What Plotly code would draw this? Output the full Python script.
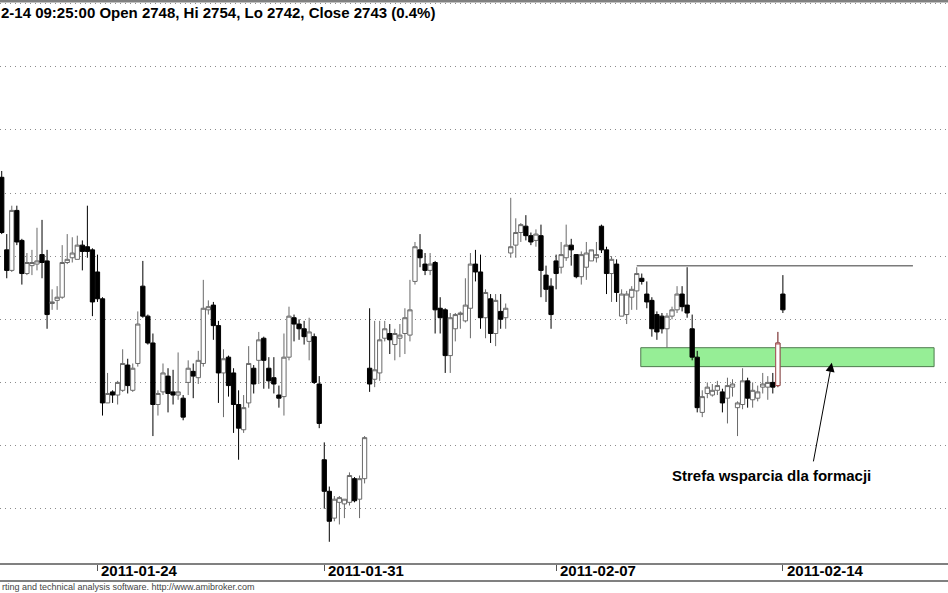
import plotly.graph_objects as go

# ---- data ----
opens = [2785, 2762, 2755.5, 2774.5, 2765, 2754.5, 2757, 2757.5, 2760.5, 2758.5,
         2745, 2746, 2747, 2758, 2759.5, 2759, 2763.5, 2763, 2762, 2755,
         2746.5, 2713.5, 2717, 2716, 2717.5, 2725.5, 2717.5, 2726, 2750.5, 2741,
         2732.5, 2713, 2717, 2722, 2717, 2716, 2715, 2720, 2723.5, 2721.5,
         2726, 2743, 2744.5, 2738, 2723, 2728, 2723, 2713, 2705, 2713.5,
         2724.5, 2727, 2734, 2724.5, 2721.5, 2716, 2715.5, 2728, 2740.5, 2738.5,
         2737, 2733, 2734.5, 2719.5, 2695.5, 2685.5, 2677, 2682, 2681.5, 2682,
         2689.5, 2683, 2689.5, 2724.5, 2721, 2723, 2734, 2735.5, 2732, 2734,
         2735.5, 2735, 2752, 2762, 2757.5, 2755.5, 2758, 2743.5, 2743, 2728.5,
         2737, 2741.5, 2739.5, 2743.5, 2757.5, 2755, 2740.5, 2746.5, 2735.5, 2742.5,
         2740.5, 2761, 2763.5, 2767.5, 2769.5, 2766.5, 2765, 2766.5, 2754, 2750.5,
         2758.5, 2756.5, 2759.5, 2763.5, 2760.5, 2753.5, 2756.5, 2758.5, 2759.5, 2769.5,
         2762, 2754.5, 2757.5, 2741, 2741.5, 2747, 2749, 2753, 2748, 2746,
         2741.5, 2741, 2737, 2741, 2743, 2748, 2744.5, 2737, 2728, 2710.5,
         2716.5, 2716, 2717.5, 2717, 2715, 2718.5, 2712, 2713, 2720.5, 2714.5,
         2715, 2718.5, 2718.5, 2720, 2719, 2748]
highs = [2787, 2767, 2776, 2776, 2765.5, 2761, 2762, 2769, 2771.5, 2762,
         2749.5, 2750.5, 2763.5, 2767, 2766, 2766.5, 2765, 2776, 2762.5, 2760.5,
         2747, 2723, 2717.5, 2720.5, 2730.5, 2727.5, 2726, 2742.5, 2758.5, 2741.5,
         2735.5, 2717.5, 2726, 2724.5, 2724, 2729.5, 2716, 2727, 2726, 2730,
         2752.5, 2746, 2745.5, 2739.5, 2730.5, 2728.5, 2724.5, 2717.5, 2716, 2731.5,
         2725.5, 2736, 2734.5, 2728, 2728, 2719, 2735.5, 2744, 2741.5, 2740,
         2739.5, 2740.5, 2735.5, 2722, 2701, 2687, 2684, 2684, 2683, 2691.5,
         2690, 2690.5, 2703, 2743.5, 2739.5, 2739.5, 2739.5, 2738.5, 2737, 2738.5,
         2743.5, 2752.5, 2764.5, 2767, 2761, 2761, 2758.5, 2747, 2743.5, 2742,
         2742, 2742.5, 2753, 2761, 2762, 2760.5, 2749.5, 2748, 2748, 2748,
         2745, 2778.5, 2772, 2770.5, 2773, 2767.5, 2768.5, 2770, 2757, 2753,
         2760.5, 2764.5, 2770, 2765.5, 2760.5, 2761.5, 2764.5, 2762, 2764.5, 2770,
         2763, 2760, 2759, 2749.5, 2749, 2750.5, 2756.5, 2754.5, 2752, 2747,
         2742.5, 2742, 2742, 2744, 2750.5, 2750.5, 2756.5, 2741.5, 2730, 2717.5,
         2720, 2719.5, 2720.5, 2718, 2721.5, 2721, 2714, 2724.5, 2721.5, 2720,
         2719, 2723, 2722, 2723, 2736, 2754]
lows = [2767, 2753, 2755, 2763.5, 2751, 2754, 2754, 2755.5, 2753, 2737,
        2743, 2743, 2746.5, 2757.5, 2758, 2759, 2755.5, 2759.5, 2741, 2745.5,
        2709.5, 2713.5, 2713.5, 2713, 2717, 2716.5, 2717, 2725, 2740.5, 2732,
        2703, 2709.5, 2716, 2710.5, 2713, 2714.5, 2708, 2716, 2715, 2719.5,
        2725, 2741.5, 2733.5, 2713.5, 2709, 2715.5, 2704, 2695.5, 2704, 2712,
        2716.5, 2719.5, 2718, 2718, 2716.5, 2712, 2709.5, 2727, 2733, 2733.5,
        2732, 2727, 2719.5, 2705.5, 2680, 2669.5, 2676, 2675, 2677, 2681,
        2682, 2677, 2688, 2717, 2718.5, 2720.5, 2733, 2729, 2727, 2728,
        2729, 2733, 2751, 2756.5, 2754, 2754, 2735.5, 2735.5, 2723, 2723,
        2733, 2737, 2739, 2734, 2752, 2737, 2734, 2732.5, 2731.5, 2737,
        2737, 2759.5, 2759.5, 2764.5, 2765, 2763.5, 2763, 2747, 2745.5, 2737,
        2749.5, 2754.5, 2758.5, 2757, 2753, 2751, 2752.5, 2758.5, 2758, 2761,
        2748, 2745.5, 2745.5, 2741, 2738.5, 2743, 2743, 2751, 2743.5, 2734.5,
        2733.5, 2735.5, 2731, 2740, 2742, 2742.5, 2740.5, 2727, 2710.5, 2709,
        2715, 2715.5, 2716, 2710.5, 2707, 2715.5, 2703, 2711.5, 2712, 2712,
        2714, 2716.5, 2714.5, 2716.5, 2718.5, 2742]
closes = [2767.5, 2755.5, 2774.5, 2764.5, 2754.5, 2758, 2758, 2758.5, 2758, 2741.5,
          2745.5, 2747, 2758, 2759, 2761, 2763.5, 2761.5, 2761.5, 2745.5, 2746.5,
          2713.5, 2716.5, 2716, 2720, 2726, 2719, 2724.5, 2738.5, 2741, 2732.5,
          2713, 2716.5, 2723, 2716.5, 2716, 2717, 2709, 2724.5, 2722, 2727,
          2743.5, 2744, 2738, 2723, 2727.5, 2719, 2713, 2705.5, 2712, 2726,
          2719.5, 2733.5, 2727, 2720.5, 2719.5, 2715, 2728, 2741, 2738.5, 2737,
          2734.5, 2736, 2720, 2707, 2685.5, 2676, 2683, 2683.5, 2683, 2690.5,
          2682.5, 2689.5, 2702.5, 2719.5, 2724, 2733.5, 2737, 2733.5, 2735.5, 2735,
          2740.5, 2743, 2763, 2759.5, 2755.5, 2757.5, 2743, 2740.5, 2728.5, 2740.5,
          2741.5, 2742, 2744.5, 2757.5, 2755, 2740.5, 2748.5, 2735.5, 2746, 2740,
          2743.5, 2763, 2767.5, 2770, 2766.5, 2764.5, 2767, 2755.5, 2749.5, 2741.5,
          2754.5, 2760.5, 2763.5, 2762, 2753.5, 2760.5, 2761, 2762, 2760.5, 2762,
          2754.5, 2759, 2748.5, 2748, 2748, 2749.5, 2754.5, 2752, 2745.5, 2737,
          2736, 2737, 2741, 2743, 2748, 2744, 2742, 2728, 2712, 2715.5,
          2718.5, 2717.5, 2719, 2713.5, 2719, 2719.5, 2713.5, 2720.5, 2715, 2717.5,
          2717, 2719.5, 2720, 2718.5, 2732.5, 2743]
bars = list(range(len(closes)))

tick_bars = [19, 64, 110, 155]
tick_labels = ["2011-01-24", "2011-01-31", "2011-02-07", "2011-02-14"]
marked_bar = 154           # bar drawn with a red outline

resistance_level = 2757.0
support_zone = (2725.0, 2731.0)

title_text = "2-14 09:25:00 Open 2748, Hi 2754, Lo 2742, Close 2743 (0.4%)"
zone_label = "Strefa wsparcia dla formacji"
footer_text = "rting and technical analysis software. http://www.amibroker.com"

FONT = "Liberation Sans, Arial, sans-serif"

fig = go.Figure()
fig.add_trace(go.Candlestick(
    x=bars, open=opens, high=highs, low=lows, close=closes,
    increasing=dict(line=dict(color="#6a6a6a", width=1), fillcolor="#ffffff"),
    decreasing=dict(line=dict(color="#000000", width=1), fillcolor="#000000"),
    whiskerwidth=0, showlegend=False, hoverinfo="skip"))
m = marked_bar
fig.add_trace(go.Candlestick(
    x=bars[m:m + 1], open=opens[m:m + 1], high=highs[m:m + 1],
    low=lows[m:m + 1], close=closes[m:m + 1],
    increasing=dict(line=dict(color="#a65050", width=1), fillcolor="#ffffff"),
    decreasing=dict(line=dict(color="#a65050", width=1), fillcolor="#ffffff"),
    whiskerwidth=0, showlegend=False, hoverinfo="skip"))

# support zone and resistance line
fig.add_shape(type="rect", xref="x", yref="y", x0=126.8, x1=185.0,
              y0=support_zone[0], y1=support_zone[1],
              fillcolor="#96ee96", line=dict(color="#4e7a4e", width=1), layer="below")
fig.add_shape(type="line", xref="x", yref="y", x0=126.0, x1=180.8,
              y0=resistance_level, y1=resistance_level,
              line=dict(color="#7a7a7a", width=1.5))

# frame lines
fig.add_shape(type="line", xref="paper", yref="paper", x0=0, x1=1, y0=1, y1=1,
              line=dict(color="#808080", width=3))
fig.add_shape(type="line", xref="paper", yref="paper", x0=0, x1=1, y0=-0.032, y1=-0.032,
              line=dict(color="#808080", width=2))

fig.add_annotation(x=0, y=1, xref="paper", yref="paper", xanchor="left", yanchor="top",
                   yshift=-1, xshift=-1, text=title_text, showarrow=False,
                   font=dict(family=FONT, size=15, color="#000000", weight="bold"))
fig.add_annotation(x=152.8, y=2690.4, xref="x", yref="y", text=zone_label, showarrow=False,
                   font=dict(family=FONT, size=15, color="#000000", weight="bold"))
fig.add_annotation(x=164.7, y=2726.2, ax=161.0, ay=2694.5, xref="x", yref="y",
                   axref="x", ayref="y", text="", showarrow=True, arrowhead=2,
                   arrowsize=1.8, arrowwidth=1, arrowcolor="#000000")
fig.add_annotation(x=0, y=-0.043, xref="paper", yref="paper", xanchor="left",
                   yanchor="middle", text=footer_text, showarrow=False,
                   font=dict(family=FONT, size=9, color="#444444"))
for tb, tl in zip(tick_bars, tick_labels):
    fig.add_annotation(x=tb, y=-0.0133, xref="x", yref="paper", xanchor="left",
                       yanchor="middle", xshift=2, text=tl, showarrow=False,
                       font=dict(family=FONT, size=15, color="#000000", weight="bold"))

fig.update_layout(
    width=948, height=593,
    margin=dict(l=0, r=0, t=1, b=30),
    paper_bgcolor="#ffffff", plot_bgcolor="#ffffff",
    boxgap=0.15, boxgroupgap=0,
    xaxis=dict(range=[-0.34, 187.76], rangeslider=dict(visible=False),
               showgrid=False, zeroline=False,
               tickmode="array", tickvals=tick_bars, showticklabels=False,
               ticks="outside", ticklen=6, tickcolor="#555555", tickwidth=1,
               showline=True, linecolor="#808080", linewidth=2),
    yaxis=dict(range=[2662.78, 2840.86], showticklabels=False, ticks="",
               zeroline=False, showgrid=True, tick0=2680, dtick=20,
               gridcolor="#8c8c8c", griddash="1px,4px", gridwidth=1),
)

fig.write_html("out.html", config={"displayModeBar": False},
               post_script="document.body.style.margin='0';document.body.style.padding='0';")
